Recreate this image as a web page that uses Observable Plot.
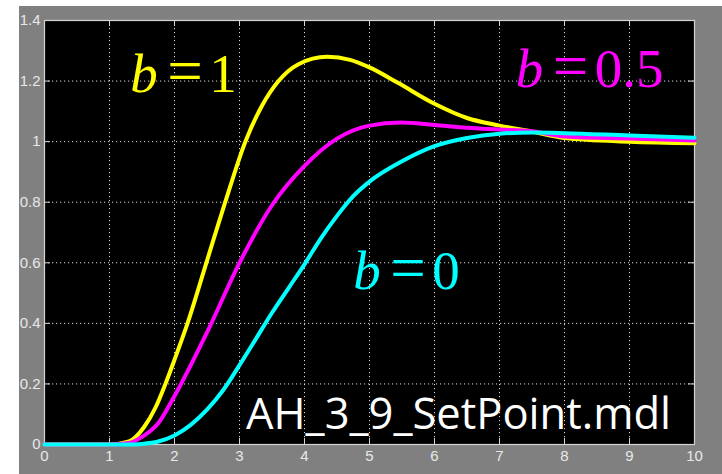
<!DOCTYPE html>
<html>
<head>
<meta charset="utf-8">
<script src="https://cdn.jsdelivr.net/npm/d3@7"></script>
<script src="https://cdn.jsdelivr.net/npm/@observablehq/plot@0.6"></script>
<style>
  html, body { margin: 0; padding: 0; background: #fff; }
  #chart { position: absolute; left: 19px; top: 6px; }
</style>
</head>
<body>
<div id="chart"></div>
<script>
// Set-point weighting step responses (scope output), three values of b
const xTicks = [0, 1, 2, 3, 4, 5, 6, 7, 8, 9, 10];
const yTicks = [0, 0.2, 0.4, 0.6, 0.8, 1, 1.2, 1.4];

// b = 1
const timeB1  = [0, 1.0, 1.3, 1.53, 1.71, 1.86, 2.0, 2.2, 2.49, 2.78, 3.09, 3.35, 3.6, 3.9, 4.35, 4.7, 5.0, 5.43, 6.0, 6.5, 7.0, 7.5, 8.0, 9.0, 10];
const valueB1 = [0, 0, 0.01, 0.057, 0.123, 0.2, 0.28, 0.4, 0.6, 0.8, 1.0, 1.12, 1.2, 1.255, 1.28, 1.27, 1.245, 1.195, 1.125, 1.078, 1.053, 1.033, 1.012, 1.0, 0.995];

// b = 0.5
const timeB05  = [0, 1.0, 1.3, 1.5, 1.75, 2.0, 2.5, 3.0, 3.5, 4.0, 4.5, 5.0, 5.48, 6.0, 6.5, 7.0, 7.5, 8.0, 9.0, 10];
const valueB05 = [0, 0, 0.005, 0.025, 0.07, 0.16, 0.37, 0.6, 0.79, 0.92, 1.01, 1.053, 1.063, 1.055, 1.046, 1.04, 1.034, 1.017, 1.01, 1.004];

// b = 0
const timeB0  = [0, 1.3, 1.5, 1.75, 2.0, 2.25, 2.5, 2.75, 3.0, 3.25, 3.5, 3.75, 4.0, 4.25, 4.5, 4.75, 5.0, 5.5, 6.0, 6.5, 7.0, 7.5, 8.0, 9.0, 10];
const valueB0 = [0, 0, 0.002, 0.01, 0.03, 0.065, 0.115, 0.18, 0.262, 0.348, 0.435, 0.515, 0.595, 0.68, 0.755, 0.82, 0.868, 0.935, 0.985, 1.012, 1.026, 1.03, 1.028, 1.02, 1.013];

const seriesNames  = ["1", "0.5", "0"];
const seriesColors = ["#ffff00", "#ff00ff", "#00ffff"];
const seriesTimes  = [timeB1, timeB05, timeB0];
const seriesValues = [valueB1, valueB05, valueB0];

// label anchor points (data units) for the "b = …" annotations
const labelX = [1.32, 7.25, 4.75];
const labelY = [1.165, 1.179, 0.515];

const fileName = "AH_3_9_SetPoint.mdl";

const series = seriesNames.map((name, i) => ({
  name,
  color: seriesColors[i],
  rows: seriesTimes[i].map((t, j) => ({t, v: seriesValues[i][j]}))
}));

const gridColor = "#d8d8d8";
const boxColor = "#d4d4d4";
const tickFont = "Liberation Sans Narrow, Liberation Sans, Arial, sans-serif";
const mathFont = "Liberation Serif, Times New Roman, serif";

// one "b = value" annotation: italic b, a wide equals sign, upright value
const equationMarks = (s, i) => {
  const at = {x: () => labelX[i], y: () => labelY[i], fill: s.color, fontFamily: mathFont,
              textAnchor: "start", lineAnchor: "bottom"};
  return [
    Plot.text([s.name], {...at, text: () => "b", fontStyle: "italic", fontSize: 55}),
    Plot.text([s.name], {...at, text: () => "=", fontSize: 63, dx: 37}),
    Plot.text([s.name], {...at, text: d => d, fontSize: 55, dx: 79})
  ];
};

const plot = Plot.plot({
  width: 703,
  height: 468,
  marginLeft: 25,
  marginTop: 14,
  marginRight: 28,
  marginBottom: 30,
  style: {
    background: "#808080",
    color: "#e8e8e8",
    fontFamily: tickFont,
    fontSize: "15px"
  },
  x: {domain: [0, 10], label: null},
  y: {domain: [0, 1.4], label: null},
  marks: [
    Plot.frame({fill: "#000", stroke: null}),
    Plot.gridX(xTicks, {stroke: gridColor, strokeOpacity: 1, strokeDasharray: "1.2,2.8"}),
    Plot.gridY(yTicks, {stroke: gridColor, strokeOpacity: 1, strokeDasharray: "1.2,2.8"}),
    // inward tick marks on all four sides
    Plot.ruleX(xTicks, {x: d => d, stroke: boxColor, insetBottom: 418}),
    Plot.ruleX(xTicks, {x: d => d, stroke: boxColor, insetTop: 418}),
    Plot.ruleY(yTicks, {y: d => d, stroke: boxColor, insetRight: 644}),
    Plot.ruleY(yTicks, {y: d => d, stroke: boxColor, insetLeft: 644}),
    Plot.frame({stroke: boxColor, strokeWidth: 1.2}),
    Plot.axisX(xTicks, {label: null, tickSize: 0, tickPadding: 6, fill: "#e8e8e8", tickFormat: d => String(d)}),
    Plot.axisY(yTicks, {label: null, tickSize: 0, tickPadding: 4, fill: "#e8e8e8", tickFormat: d => String(+d.toFixed(1))}),
    ...series.map(s => Plot.line(s.rows, {
      x: "t", y: "v", stroke: s.color, strokeWidth: 4, curve: "monotone-x"
    })),
    ...series.flatMap(equationMarks),
    Plot.text([fileName], {
      x: () => 3.1, y: () => 0.05, text: d => d,
      fill: "#ffffff", fontFamily: "Open Sans, sans-serif",
      fontSize: 43.5, textAnchor: "start", lineAnchor: "bottom"
    })
  ]
});

document.getElementById("chart").appendChild(plot);
</script>
</body>
</html>
